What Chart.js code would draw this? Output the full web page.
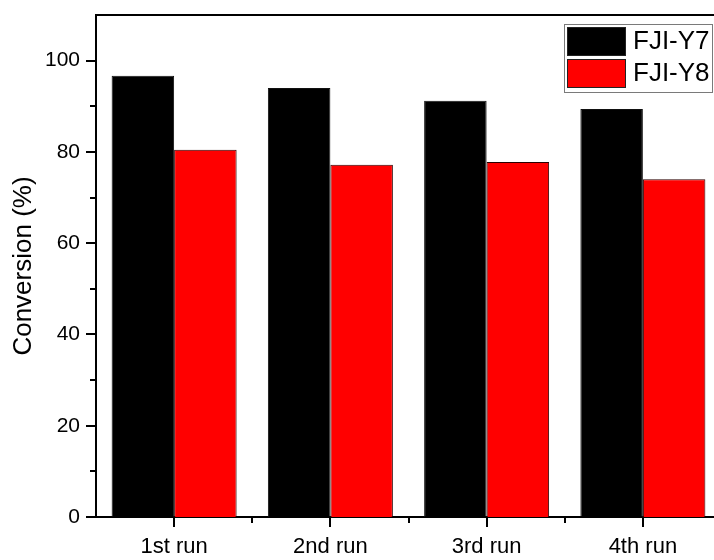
<!DOCTYPE html>
<html>
<head>
<meta charset="utf-8">
<script src="https://cdn.jsdelivr.net/npm/chart.js@4"></script>
<style>
  html, body { margin: 0; padding: 0; background: #fff; overflow: hidden; }
  canvas { display: block; }
</style>
</head>
<body>
<canvas id="myChart" width="722" height="560"></canvas>
<script>
var runs = ['1st run', '2nd run', '3rd run', '4th run'];
var seriesNames = ['FJI-Y7', 'FJI-Y8'];
var y7Values = [96.7, 94.0, 91.2, 89.4];
var y8Values = [80.5, 77.2, 77.8, 74.0];
var seriesColors = ['#000000', '#ff0000'];
var yTickValues = [0, 10, 20, 30, 40, 50, 60, 70, 80, 90, 100];

var FONT = "'Liberation Sans', Arial, sans-serif";

// ticks, top frame line and the boxed legend (Origin style)
var frameAndLegend = {
    id: 'frameAndLegend',
    afterDraw: function(chart) {
        var c = chart.ctx;
        var area = chart.chartArea;
        var xs = chart.scales.x;
        var ys = chart.scales.y;
        c.save();
        c.strokeStyle = '#000';
        c.lineWidth = 2;
        c.beginPath();
        c.moveTo(area.left - 1, area.top);
        c.lineTo(chart.width, area.top);
        c.stroke();

        // y ticks: long on labelled values, short in between
        c.beginPath();
        yTickValues.forEach(function(v) {
            var py = Math.round(ys.getPixelForValue(v));
            var len = (v % 20 === 0) ? 10 : 6;
            c.moveTo(area.left, py);
            c.lineTo(area.left - len, py);
        });
        // x ticks: long at the run centres, short at the group boundaries
        for (var i = 0; i < runs.length; i++) {
            var px = Math.round(xs.getPixelForTick(i));
            c.moveTo(px, area.bottom);
            c.lineTo(px, area.bottom + 10);
            if (i < runs.length - 1) {
                var mid = Math.round((xs.getPixelForTick(i) + xs.getPixelForTick(i + 1)) / 2);
                c.moveTo(mid, area.bottom);
                c.lineTo(mid, area.bottom + 6);
            }
        }
        c.stroke();

        // legend
        c.lineWidth = 1;
        c.strokeStyle = '#7a7a7a';
        c.strokeRect(564.5, 24.5, 148, 68);
        c.font = '26px ' + FONT;
        c.textBaseline = 'middle';
        c.textAlign = 'left';
        chart.data.datasets.forEach(function(ds, k) {
            var sy = 27 + k * 32;
            c.fillStyle = ds.backgroundColor;
            c.fillRect(567, sy, 59, 29);
            c.strokeStyle = '#222';
            c.strokeRect(567.5, sy + 0.5, 58, 28);
            c.fillStyle = '#000';
            c.fillText(ds.label, 633, sy + 15);
        });
        c.restore();
    }
};

var ctx = document.getElementById('myChart').getContext('2d');
var myChart = new Chart(ctx, {
    type: 'bar',
    data: {
        labels: runs,
        datasets: [{
            label: seriesNames[0],
            data: y7Values,
            backgroundColor: seriesColors[0],
            borderColor: '#111',
            borderWidth: 1
        }, {
            label: seriesNames[1],
            data: y8Values,
            backgroundColor: seriesColors[1],
            borderColor: '#2a0000',
            borderWidth: 1
        }]
    },
    options: {
        responsive: false,
        animation: false,
        layout: { padding: { left: 0, right: 1, top: 0, bottom: 0 } },
        datasets: {
            bar: { categoryPercentage: 0.8, barPercentage: 1.0 }
        },
        plugins: {
            legend: { display: false },
            tooltip: { enabled: false }
        },
        scales: {
            x: {
                offset: true,
                grid: { display: false, drawTicks: false },
                border: { display: true, color: '#000', width: 2 },
                ticks: {
                    color: '#000',
                    padding: 17,
                    font: { family: FONT, size: 22 }
                },
                afterFit: function(scale) { scale.height = 43; }
            },
            y: {
                min: 0,
                max: 110,
                grid: { display: false, drawTicks: false },
                border: { display: true, color: '#000', width: 2 },
                ticks: {
                    stepSize: 10,
                    color: '#000',
                    padding: 16,
                    font: { family: FONT, size: 21 },
                    callback: function(v) { return (v % 20 === 0 && v <= 100) ? v : ''; }
                },
                title: {
                    display: true,
                    text: 'Conversion (%)',
                    color: '#000',
                    font: { family: FONT, size: 26 },
                    padding: { top: 8, bottom: 0 }
                },
                afterFit: function(scale) {
                    scale.width = 96;
                    scale.paddingTop = 15;
                }
            }
        }
    },
    plugins: [frameAndLegend]
});
</script>
</body>
</html>
